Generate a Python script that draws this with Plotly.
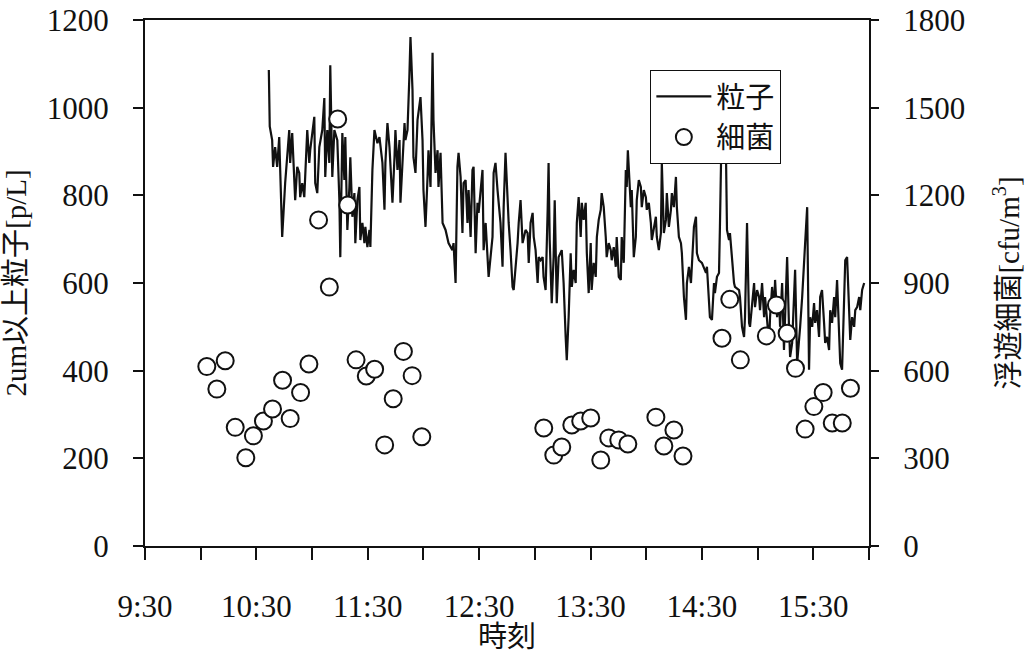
import plotly.graph_objects as go

# Particle concentration (>= 2 um, p/L); time as minutes elapsed after 9:30
particle_min = [
    66.7, 67.2, 68.5, 69.0, 70.1, 71.2, 72.3, 73.9, 75.5, 77.7, 78.2, 79.3, 80.9, 82.0, 83.1, 83.6,
    84.7, 85.8, 87.4, 88.5, 89.0, 91.2, 91.7, 92.8, 93.9, 95.5, 96.6, 97.1, 98.2, 99.3, 99.8, 100.9,
    102.0, 103.6, 104.7, 105.2, 106.3, 107.4, 107.9, 109.0, 110.1, 110.6, 111.7, 112.8, 113.3, 114.4,
    115.5, 116.0, 117.1, 118.2, 118.7, 119.8, 120.9, 121.4, 122.5, 123.6, 125.2, 126.3, 127.9, 129.0,
    129.5, 130.6, 131.7, 132.2, 133.3, 134.4, 134.9, 136.0, 137.1, 137.6, 138.7, 139.8, 140.3, 141.4,
    142.4, 143.0,
    144.1, 144.6, 145.7, 146.8, 148.4, 149.5, 150.0, 151.1, 152.2, 152.7, 153.8, 154.9, 155.4, 156.5,
    157.6, 158.1, 159.2, 160.3, 161.9, 163.5, 165.6, 166.2, 167.3, 168.3, 168.9, 170.0, 171.0, 171.6,
    172.7, 173.7, 174.3, 175.4, 176.4, 177.0, 178.1, 179.1, 179.7, 180.8, 181.8, 182.4, 183.5, 185.1,
    187.2, 187.8, 188.8, 189.9, 190.5, 191.5, 192.6, 193.2, 194.2, 195.3, 195.9, 196.9, 198.0, 198.6,
    199.6, 200.7, 201.3, 202.3, 203.4, 204.0, 205.0, 206.1, 206.7, 207.7, 208.8, 209.4, 210.4, 211.5,
    212.1, 213.1, 214.2, 214.7, 215.8, 216.9, 217.4, 218.0, 219.1, 220.1, 220.7, 221.8, 222.8,
    224.5, 225.5, 226.6, 227.2, 228.2, 229.3, 229.9, 230.9, 232.0, 232.6, 233.6, 234.7, 235.3, 236.3,
    237.4, 238.0, 239.0, 240.1, 240.6, 241.7, 242.8, 243.4, 244.4, 245.5, 246.0, 247.1, 248.2, 248.7,
    249.8, 250.9, 251.4, 252.5, 253.6, 254.1, 255.2, 256.3, 256.8, 257.9, 259.0, 259.5, 260.1, 261.2,
    261.7, 262.2, 263.3, 264.4, 264.9, 266.0, 267.1, 267.6, 268.7, 269.8, 270.3, 271.4, 272.5, 273.0,
    274.1, 275.2, 275.7, 276.8, 277.9, 278.4, 279.5, 280.6, 281.1, 282.2, 283.3, 283.8, 284.9, 286.0,
    286.5, 287.6, 288.7, 289.2, 290.3, 291.4, 291.9, 293.0, 294.1, 294.6, 295.7, 296.8, 297.3, 298.4,
    300.0, 302.2,
    302.7, 304.3, 305.4, 306.5, 307.0, 308.1, 309.2, 309.7, 310.8, 311.9, 313.0, 313.5, 314.6, 315.1,
    316.2, 317.3, 317.8, 320.0, 320.5, 321.6, 322.7, 323.2, 324.3, 325.4, 325.9, 327.0, 328.1, 328.6,
    329.7, 330.8, 331.3, 332.4, 333.5, 334.0, 335.1, 336.2, 336.7, 337.8, 338.9, 339.4, 340.5, 341.6,
    342.1, 343.2, 344.2, 344.8, 345.9, 346.9, 347.5, 348.6, 349.6, 350.2, 351.3, 352.3, 352.9, 354.0,
    355.0, 355.6, 356.7, 357.7, 358.3, 359.4, 360.4, 361.0, 362.0, 363.1, 363.7, 364.7, 365.8, 366.4,
    367.4, 368.5, 369.1, 370.1, 371.2, 371.8, 372.8, 373.9, 374.5, 375.5, 376.6, 377.2, 378.2, 379.3,
    379.9, 380.9, 382.0, 382.6, 383.6, 384.7, 385.3, 386.3, 387.4,
]
particle_count = [
    1086, 957, 926, 865, 910, 865, 933, 705, 828, 949, 874, 942, 789, 865, 851, 796,
    828, 796, 949, 874, 903, 979, 828, 805, 910, 949, 1022, 842, 949, 874, 1097, 842,
    949, 926, 789, 659, 942, 835, 933, 721, 819, 887, 751, 805, 691, 789,
    819, 698, 737, 691, 728, 682, 721, 682, 858, 949, 919, 933, 874, 767,
    874, 965, 910, 874, 783, 887, 949, 858, 926, 783, 874, 965, 926, 949,
    1070, 1161,
    1040, 887, 851, 972, 1024, 926, 812, 728, 842, 903, 819, 1125, 972, 851,
    903, 819, 897, 737, 721, 691, 675, 691, 600, 865, 897, 842, 714, 828,
    835, 737, 812, 705, 858, 865, 668, 783, 760, 812, 858, 675, 737, 614,
    705, 851, 874, 812, 783, 737, 637, 773, 897, 789, 737, 675, 591, 584,
    630, 691, 737, 789, 691, 705, 721, 714, 646, 737, 760, 705, 675, 600,
    659, 652, 659, 614, 584, 767, 874, 698, 554, 659, 789, 554, 659,
    675, 600, 477, 424, 522, 668, 591, 630, 600, 737, 796, 705, 783, 744,
    783, 668, 577, 691, 584, 646, 614, 705, 744, 767, 805, 773, 705, 659,
    691, 675, 652, 682, 637, 705, 614, 607, 705, 646, 858, 819, 903, 812,
    773, 812, 659, 705, 789, 835, 819, 773, 812, 796, 767, 783, 737, 698,
    728, 751, 705, 675, 714, 874, 714, 744, 805, 728, 767, 805, 773, 842,
    773, 705, 691, 668, 568, 516, 600, 637, 600, 652, 728, 751, 668, 652,
    646, 623,
    637, 522, 516, 600, 577, 614, 623, 728, 1000, 990, 880, 721, 698, 714,
    646, 600, 591, 584, 568, 500, 477, 522, 737, 509, 500, 554, 600, 545,
    584, 568, 538, 600, 522, 568, 522, 463, 522, 591, 538, 607, 522, 561,
    500, 600, 447, 522, 659, 500, 431, 463, 554, 630, 417, 463, 500, 568,
    630, 691, 773, 402, 522, 500, 554, 509, 538, 477, 568, 584, 509, 463,
    477, 447, 538, 509, 568, 522, 607, 500, 417, 402, 538, 652, 659, 538,
    470, 522, 500, 538, 545, 568, 538, 584, 600,
]

# Airborne bacteria (cfu/m3); minutes elapsed after 9:30
bacteria_min = [
    33.3, 38.7, 43.2, 48.6, 54.3, 58.4, 63.8, 68.7, 74.1, 78.2, 83.8, 88.3,
    93.5, 99.3, 103.8, 109.2, 113.7, 119.2, 123.7, 129.1, 133.7, 139.2, 143.9, 149.1,
    214.8, 220.2, 224.5, 229.9, 234.7, 240.1, 245.5, 249.8, 255.2, 260.1, 275.2, 279.5,
    284.9, 289.8,
    310.8, 315.0, 320.7, 334.7, 340.1, 345.9, 350.4, 355.6, 360.3, 365.3, 370.2, 375.6, 380.0,
]
bacteria_cfu = [
    614, 537, 634, 406, 302, 377, 428, 469, 567, 436, 525, 623,
    1116, 886, 1461, 1167, 637, 582, 605, 346, 504, 666, 583, 374,
    404, 311, 339, 414, 428, 438, 294, 370, 363, 349, 441, 342,
    397, 308,
    711, 844, 637, 719, 825, 728, 608, 400, 477, 525, 421, 421, 540,
]

# Time axis: labelled every hour on the half hour, minor ticks every 30 min
tick_min = [0, 60, 120, 180, 240, 300, 360]
tick_text = ["9:30", "10:30", "11:30", "12:30", "13:30", "14:30", "15:30"]

assert len(particle_min) == len(particle_count)
assert len(bacteria_min) == len(bacteria_cfu)

FONT = "Liberation Serif, 'Noto Sans CJK JP', serif"
INK = "#111111"

fig = go.Figure()
fig.add_trace(go.Scatter(
    x=particle_min, y=particle_count, name="粒子", mode="lines",
    line=dict(color=INK, width=2.2), yaxis="y",
))
fig.add_trace(go.Scatter(
    x=bacteria_min, y=bacteria_cfu, name="細菌", mode="markers",
    marker=dict(symbol="circle", size=17, color="white",
                line=dict(color=INK, width=2)),
    yaxis="y2",
))

axis_common = dict(
    showline=True, linecolor=INK, linewidth=2, ticks="outside",
    tickcolor=INK, tickwidth=1.5, showgrid=False, zeroline=False,
    automargin=False,
    tickfont=dict(family=FONT, size=31, color=INK),
)
title_font = dict(family=FONT, size=29, color=INK)

fig.update_layout(
    width=1028, height=653,
    margin=dict(l=145, r=159, t=20, b=107),
    paper_bgcolor="white", plot_bgcolor="white",
    font=dict(family=FONT, color=INK),
    showlegend=True,
    legend=dict(
        x=0.698, y=0.905, xanchor="left", yanchor="top",
        bgcolor="white", bordercolor=INK, borderwidth=1,
        font=dict(family=FONT, size=29, color=INK),
        itemwidth=55, tracegroupgap=0,
    ),
    xaxis=dict(
        range=[0, 390], tickmode="array", tickvals=tick_min, ticktext=tick_text,
        ticklen=12, mirror=True, ticklabelstandoff=20,
        minor=dict(dtick=30, tick0=0, ticks="outside", ticklen=12,
                   tickcolor=INK, tickwidth=1.5, showgrid=False),
        title=dict(text="時刻", font=title_font, standoff=12),
        **axis_common,
    ),
    yaxis=dict(
        range=[0, 1200], tickmode="linear", tick0=0, dtick=200, ticklen=10,
        ticklabelstandoff=18,
        title=dict(text="2um以上粒子[p/L]", font=title_font, standoff=16),
        **axis_common,
    ),
    yaxis2=dict(
        range=[0, 1800], tickmode="linear", tick0=0, dtick=300, ticklen=8,
        overlaying="y", side="right", ticklabelstandoff=18,
        title=dict(text="浮遊細菌[cfu/m<sup>3</sup>]", font=title_font, standoff=34),
        **axis_common,
    ),
)

fig.write_html("out.html")
